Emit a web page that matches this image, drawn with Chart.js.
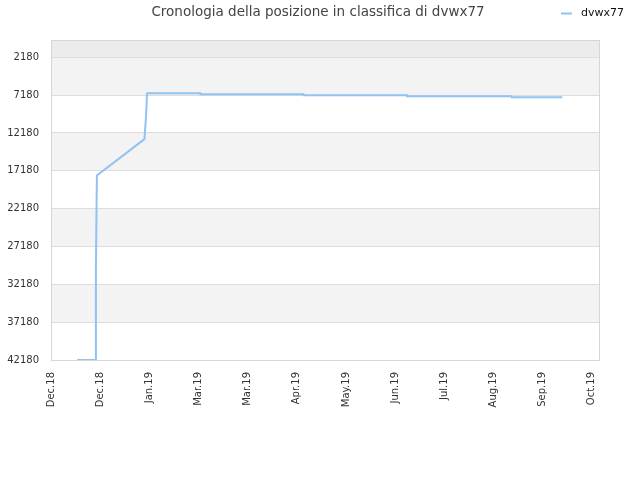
<!DOCTYPE html>
<html>
<head>
<meta charset="utf-8">
<script src="https://cdn.jsdelivr.net/npm/chart.js@4/dist/chart.umd.min.js"></script>
<style>
  html, body { margin: 0; padding: 0; background: #fff; }
  #wrap { width: 640px; height: 480px; }
</style>
</head>
<body>
<div id="wrap"><canvas id="chart"></canvas></div>
<script>
// days counted from 1 Dec 2018
const days  = [16, 27, 27.4, 28, 57, 58, 58.6, 91, 91.2, 154, 154.2, 217, 217.2, 281, 281.2, 312];
const ranks = [42180, 42180, 30100, 17800, 13000, 10000, 6950, 6950, 7080, 7080, 7210, 7210, 7345, 7345, 7480, 7480];

const xTickDays   = [0, 30, 60, 90, 120, 150, 180, 210, 240, 270, 300, 330];
const xTickLabels = ['Dec.18', 'Dec.18', 'Jan.19', 'Mar.19', 'Mar.19', 'Apr.19', 'May.19', 'Jun.19', 'Jul.19', 'Aug.19', 'Sep.19', 'Oct.19'];
const yTicks      = [2180, 7180, 12180, 17180, 22180, 27180, 32180, 37180, 42180];

const TITLE = 'Cronologia della posizione in classifica di dvwx77';
const SERIES = 'dvwx77';
const FONT = '"DejaVu Sans", sans-serif';

// grey bands between the y ticks, plus the frame and the header texts
const decor = {
  id: 'decor',
  beforeDraw(chart) {
    const { ctx, chartArea: a, scales: { y } } = chart;
    const bounds = [y.min].concat(yTicks);
    ctx.save();
    for (let i = 0; i < bounds.length - 1; i++) {
      const y0 = y.getPixelForValue(bounds[i]);
      const y1 = y.getPixelForValue(bounds[i + 1]);
      ctx.fillStyle = i === 0 ? '#ececec' : (i % 2 === 1 ? '#f3f3f3' : '#ffffff');
      ctx.fillRect(a.left, y0, a.right - a.left, y1 - y0);
    }
    ctx.restore();
  },
  afterDraw(chart) {
    const { ctx, chartArea: a } = chart;
    ctx.save();
    ctx.strokeStyle = '#d6d6d6';
    ctx.lineWidth = 1;
    ctx.strokeRect(a.left + 0.5, a.top + 0.5, a.right - a.left - 1, a.bottom - a.top);

    ctx.fillStyle = '#444';
    ctx.font = '13.5px ' + FONT;
    ctx.textAlign = 'center';
    ctx.textBaseline = 'middle';
    ctx.fillText(TITLE, 318, 12);

    ctx.strokeStyle = chart.data.datasets[0].borderColor;
    ctx.lineWidth = 2;
    ctx.beginPath();
    ctx.moveTo(561, 13.5);
    ctx.lineTo(572, 13.5);
    ctx.stroke();
    ctx.font = '11px ' + FONT;
    ctx.textAlign = 'left';
    ctx.fillStyle = '#111';
    ctx.fillText(SERIES, 581, 13);
    ctx.restore();
  }
};

new Chart(document.getElementById('chart'), {
  type: 'line',
  data: {
    datasets: [{
      label: SERIES,
      data: days.map((d, i) => ({ x: d, y: ranks[i] })),
      borderColor: '#90c2f2',
      borderWidth: 2,
      borderJoinStyle: 'round',
      pointRadius: 0,
      tension: 0,
      fill: false
    }]
  },
  options: {
    responsive: true,
    maintainAspectRatio: false,
    animation: false,
    layout: { padding: { left: 6, right: 40, top: 40, bottom: 60 } },
    plugins: {
      legend: { display: false },
      title: { display: false },
      tooltip: { enabled: false }
    },
    scales: {
      x: {
        type: 'linear',
        min: 0,
        max: 335,
        afterBuildTicks: s => { s.ticks = xTickDays.map(v => ({ value: v })); },
        afterFit: s => { s.height = 60; },
        ticks: {
          autoSkip: false,
          minRotation: 90,
          maxRotation: 90,
          padding: 12,
          color: '#333',
          font: { family: FONT, size: 10 },
          callback: (v) => xTickLabels[xTickDays.indexOf(v)]
        },
        grid: { display: false, drawTicks: false },
        border: { display: false }
      },
      y: {
        reverse: true,
        min: -100,
        max: 42180,
        afterBuildTicks: s => { s.ticks = yTicks.map(v => ({ value: v })); },
        afterFit: s => { s.width = 45; },
        ticks: {
          padding: 12,
          color: '#333',
          font: { family: FONT, size: 10 },
          callback: v => String(v)
        },
        grid: { color: '#dddddd', drawTicks: false },
        border: { display: false }
      }
    }
  },
  plugins: [decor]
});
</script>
</body>
</html>
